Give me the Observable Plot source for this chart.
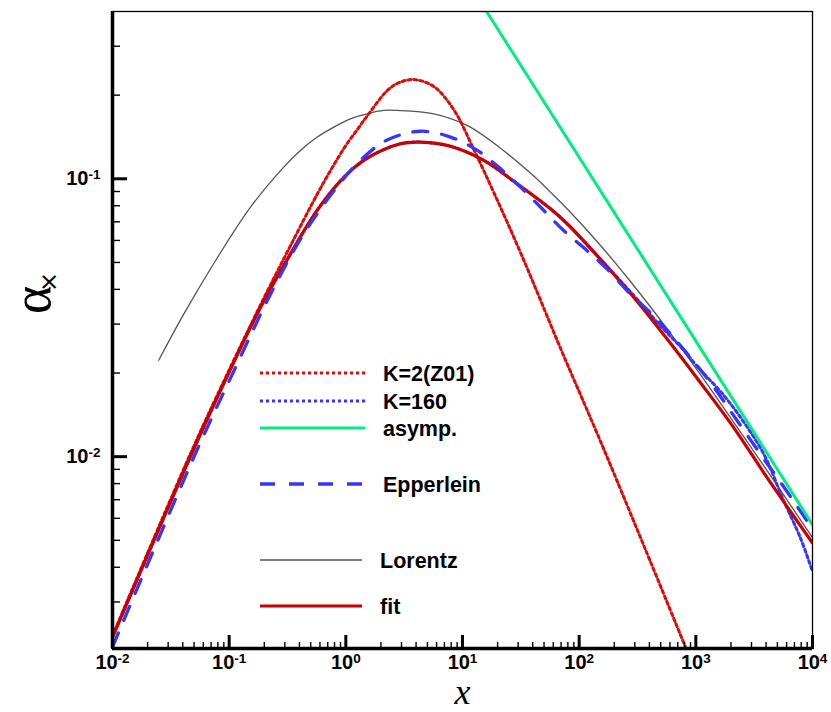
<!DOCTYPE html>
<html><head><meta charset="utf-8">
<script src="https://cdn.jsdelivr.net/npm/d3@7"></script>
<script src="https://cdn.jsdelivr.net/npm/@observablehq/plot@0.6"></script>
<style>
html,body{margin:0;padding:0;background:#fff;}
#chart{position:relative;width:831px;height:712px;}
#chart svg{position:absolute;left:0;top:0;}
</style>
</head><body><div id="chart"></div>
<script>
// ---- data ----
const xDomain = [0.01, 10000];
const yDomain = [0.00204, 0.4];

const xMajorTicks = [0.01, 0.1, 1, 10, 100, 1000, 10000];
const xTickLabels = ["-2", "-1", "0", "1", "2", "3", "4"];
const xMinorTicks = [0.02,0.03,0.04,0.05,0.06,0.07,0.08,0.09, 0.2,0.3,0.4,0.5,0.6,0.7,0.8,0.9,
  2,3,4,5,6,7,8,9, 20,30,40,50,60,70,80,90, 200,300,400,500,600,700,800,900,
  2000,3000,4000,5000,6000,7000,8000,9000];
const yMajorTicks = [0.01, 0.1];
const yTickLabels = ["-2", "-1"];
const yMinorTicks = [0.003,0.004,0.005,0.006,0.007,0.008,0.009,
  0.02,0.03,0.04,0.05,0.06,0.07,0.08,0.09, 0.2,0.3];

const fitX = [0.01, 0.0482, 0.1062, 0.1858, 0.3357, 0.5689, 0.9616, 1.524, 2.944, 4.365, 7.889, 15.24, 29.44, 56.75, 78.89, 152.4, 294.4, 567.5, 1096, 2118, 4083, 10000];
const fitY = [0.002239, 0.01035, 0.02128, 0.03451, 0.0537, 0.0771, 0.1012, 0.1186, 0.1337, 0.1355, 0.1309, 0.1164, 0.0959, 0.078, 0.0689, 0.0513, 0.0374, 0.0265, 0.01845, 0.0127, 0.0084, 0.00489];

const z01X = [0.01, 0.0482, 0.1062, 0.198, 0.336, 0.569, 0.789, 1, 1.259, 1.524, 2.259, 2.818, 3.828, 5.675, 8.433, 12.5, 18.58, 32.5, 69.2, 152.4, 358, 815];
const z01Y = [0.002265, 0.01059, 0.02163, 0.03715, 0.05754, 0.0881, 0.1122, 0.1318, 0.1507, 0.1683, 0.2075, 0.2213, 0.2275, 0.2148, 0.1770, 0.1274, 0.0891, 0.0525, 0.02455, 0.01135, 0.004786, 0.002065];

const k160X = [0.01, 0.0482, 0.1062, 0.1858, 0.3357, 0.5689, 0.9616, 1.524, 2.944, 4.365, 7.889, 15.24, 29.44, 56.75, 78.89, 152.4, 294, 500, 800, 1000, 1740, 2580, 3830, 5680, 7890, 10000];
const k160Y = [0.002239, 0.01035, 0.02128, 0.03451, 0.0537, 0.0771, 0.1012, 0.1186, 0.1337, 0.1355, 0.1309, 0.1164, 0.0959, 0.078, 0.0689, 0.0513, 0.038, 0.0295, 0.024, 0.0214, 0.0166, 0.0133, 0.0102, 0.00692, 0.00509, 0.00386];

const asympX = [16.07, 10000];
const asympY = [0.4, 0.00569];

const eppX = [0.01, 0.05, 0.113, 0.2415, 0.4365, 0.90, 1.43, 2.26, 4.37, 7.89, 13.4, 21.2, 31.4, 49.8, 74, 117, 174, 275, 408, 627, 1337, 1982, 3707, 5495, 7396, 10000];
const eppY = [0.00207, 0.0100, 0.0209, 0.0406, 0.0634, 0.097, 0.1197, 0.138, 0.1483, 0.1413, 0.1265, 0.1086, 0.0933, 0.0769, 0.065, 0.0551, 0.0473, 0.0385, 0.0330, 0.0272, 0.01845, 0.01459, 0.0100, 0.00794, 0.00661, 0.0055];

const lorX = [0.0249, 0.0408, 0.0789, 0.1524, 0.2938, 0.4083, 0.5689, 0.7889, 1.0965, 1.524, 2.118, 2.754, 5.675, 10.96, 21.18, 40.83, 56.75, 78.89, 152.4, 294.4, 567.5, 1096, 2118, 4083, 9931];
const lorY = [0.02223, 0.03258, 0.05188, 0.07907, 0.1102, 0.1265, 0.1413, 0.1535, 0.1644, 0.1714, 0.1762, 0.1762, 0.1714, 0.1556, 0.1288, 0.1023, 0.08954, 0.07798, 0.05754, 0.04121, 0.02884, 0.01972, 0.01327, 0.008913, 0.005129];

const legendLabels = ["K=2(Z01)", "K=160", "asymp.", "Epperlein", "Lorentz", "fit"];

// ---- styles ----
const C = {
  z01: "#dd0a0a", k160: "#3535ff", asymp: "#00ee7e", epp: "#3535ff", lor: "#555555", fit: "#cc0000"
};
const S = {
  z01: {stroke: C.z01, strokeWidth: 3, strokeDasharray: "3,3"},
  k160: {stroke: C.k160, strokeWidth: 3, strokeDasharray: "3,3"},
  asymp: {stroke: C.asymp, strokeWidth: 3},
  epp: {stroke: C.epp, strokeWidth: 3.3, strokeDasharray: "15,14"},
  lor: {stroke: C.lor, strokeWidth: 1.3},
  fit: {stroke: C.fit, strokeWidth: 3.2}
};

const rows = (xs, ys) => xs.map((x, i) => ({x, y: ys[i]}));
const lineOpts = (st) => ({x: "x", y: "y", curve: "catmull-rom", clip: true, ...st});

const font = "'Liberation Sans', Arial, Helvetica, sans-serif";
const serif = "'Liberation Serif', 'Times New Roman', serif";

const mL = 112, mR = 19, mT = 11, mB = 64, W = 831, H = 712;
const plotW = W - mL - mR, plotH = H - mT - mB;

const plot = Plot.plot({
  width: W, height: H,
  marginLeft: mL, marginRight: mR, marginTop: mT, marginBottom: mB,
  style: {fontFamily: font, background: "transparent"},
  x: {type: "log", domain: xDomain},
  y: {type: "log", domain: yDomain},
  marks: [
    Plot.line(rows(lorX, lorY), lineOpts(S.lor)),
    Plot.line(rows(k160X, k160Y), lineOpts(S.k160)),
    Plot.line(rows(z01X, z01Y), lineOpts(S.z01)),
    Plot.line(rows(fitX, fitY), lineOpts(S.fit)),
    Plot.line(rows(eppX, eppY), lineOpts(S.epp)),
    Plot.line(rows(asympX, asympY), {...lineOpts(S.asymp), curve: "linear"}),
    Plot.frame({stroke: "#000", strokeWidth: 1.3}),
    Plot.ruleX([xDomain[0]], {stroke: "#000", strokeWidth: 3.5}),
    Plot.ruleY([yDomain[0]], {stroke: "#000", strokeWidth: 3.5}),
    // inward ticks: top/right anchored axes shifted onto the bottom/left frame
    Plot.axisX(xMinorTicks, {anchor: "top", dy: plotH, tickSize: 7, strokeWidth: 1.4, tickFormat: () => "", label: null}),
    Plot.axisX(xMajorTicks, {anchor: "top", dy: plotH, tickSize: 14, strokeWidth: 3, tickFormat: () => "", label: null}),
    Plot.axisY(yMinorTicks, {anchor: "right", dx: -plotW, tickSize: 7, strokeWidth: 1.4, tickFormat: () => "", label: null}),
    Plot.axisY(yMajorTicks, {anchor: "right", dx: -plotW, tickSize: 14, strokeWidth: 3, tickFormat: () => "", label: null}),
    // tick labels
    Plot.axisX(xMajorTicks, {anchor: "bottom", tickSize: 0, tickPadding: 6, fontSize: 20, fontWeight: "bold", fill: "#000",
      tickFormat: d => xTickLabels[xMajorTicks.indexOf(d)], label: null}),
    Plot.axisY(yMajorTicks, {anchor: "left", tickSize: 0, tickPadding: 12, fontSize: 20, fontWeight: "bold", fill: "#000",
      tickFormat: d => yTickLabels[yMajorTicks.indexOf(d)], label: null}),
    // axis titles
    Plot.text(["\u03b1"], {frameAnchor: "left", dx: -80, dy: -16, rotate: -90, fontSize: 54, fontFamily: serif, fill: "#000"}),
    Plot.text(["\u00d7"], {frameAnchor: "left", dx: -63, dy: -38, rotate: -90, fontSize: 24, fontFamily: "'DejaVu Sans', sans-serif", fill: "#000"}),
    Plot.text(["x"], {frameAnchor: "bottom", dy: 55, fontSize: 36, fontStyle: "italic", fontFamily: serif, fill: "#000"})
  ]
});

// superscript exponents on tick labels (only non-empty labels)
d3.select(plot).selectAll('g[aria-label="x-axis tick label"] text, g[aria-label="y-axis tick label"] text').each(function () {
  const e = this.textContent;
  if (!e) return;
  const t = d3.select(this);
  t.text(null);
  t.append("tspan").text("10");
  t.append("tspan").attr("dy", "-0.45em").attr("font-size", "13.5px").text(e);
});

document.getElementById("chart").appendChild(plot);

// ---- legend overlay ----
const legendStyles = [S.z01, S.k160, S.asymp, S.epp, S.lor, S.fit];
const legendRowY = [373, 401, 428, 484, 560, 606];
const lg = d3.select("#chart").append("svg").attr("width", W).attr("height", H);
legendLabels.forEach((lab, i) => {
  const st = legendStyles[i];
  const y = legendRowY[i];
  const x2 = i >= 4 ? 362 : 365;
  lg.append("line").attr("x1", 260).attr("x2", x2).attr("y1", y).attr("y2", y)
    .attr("stroke", st.stroke).attr("stroke-width", st.strokeWidth)
    .attr("stroke-dasharray", st.strokeDasharray || null);
  lg.append("text").attr("x", i >= 4 ? 380 : 383).attr("y", y).attr("dy", "0.35em")
    .attr("font-family", font).attr("font-weight", "bold").attr("font-size", 21.5)
    .attr("fill", "#000").text(lab);
});
</script>
</body></html>
